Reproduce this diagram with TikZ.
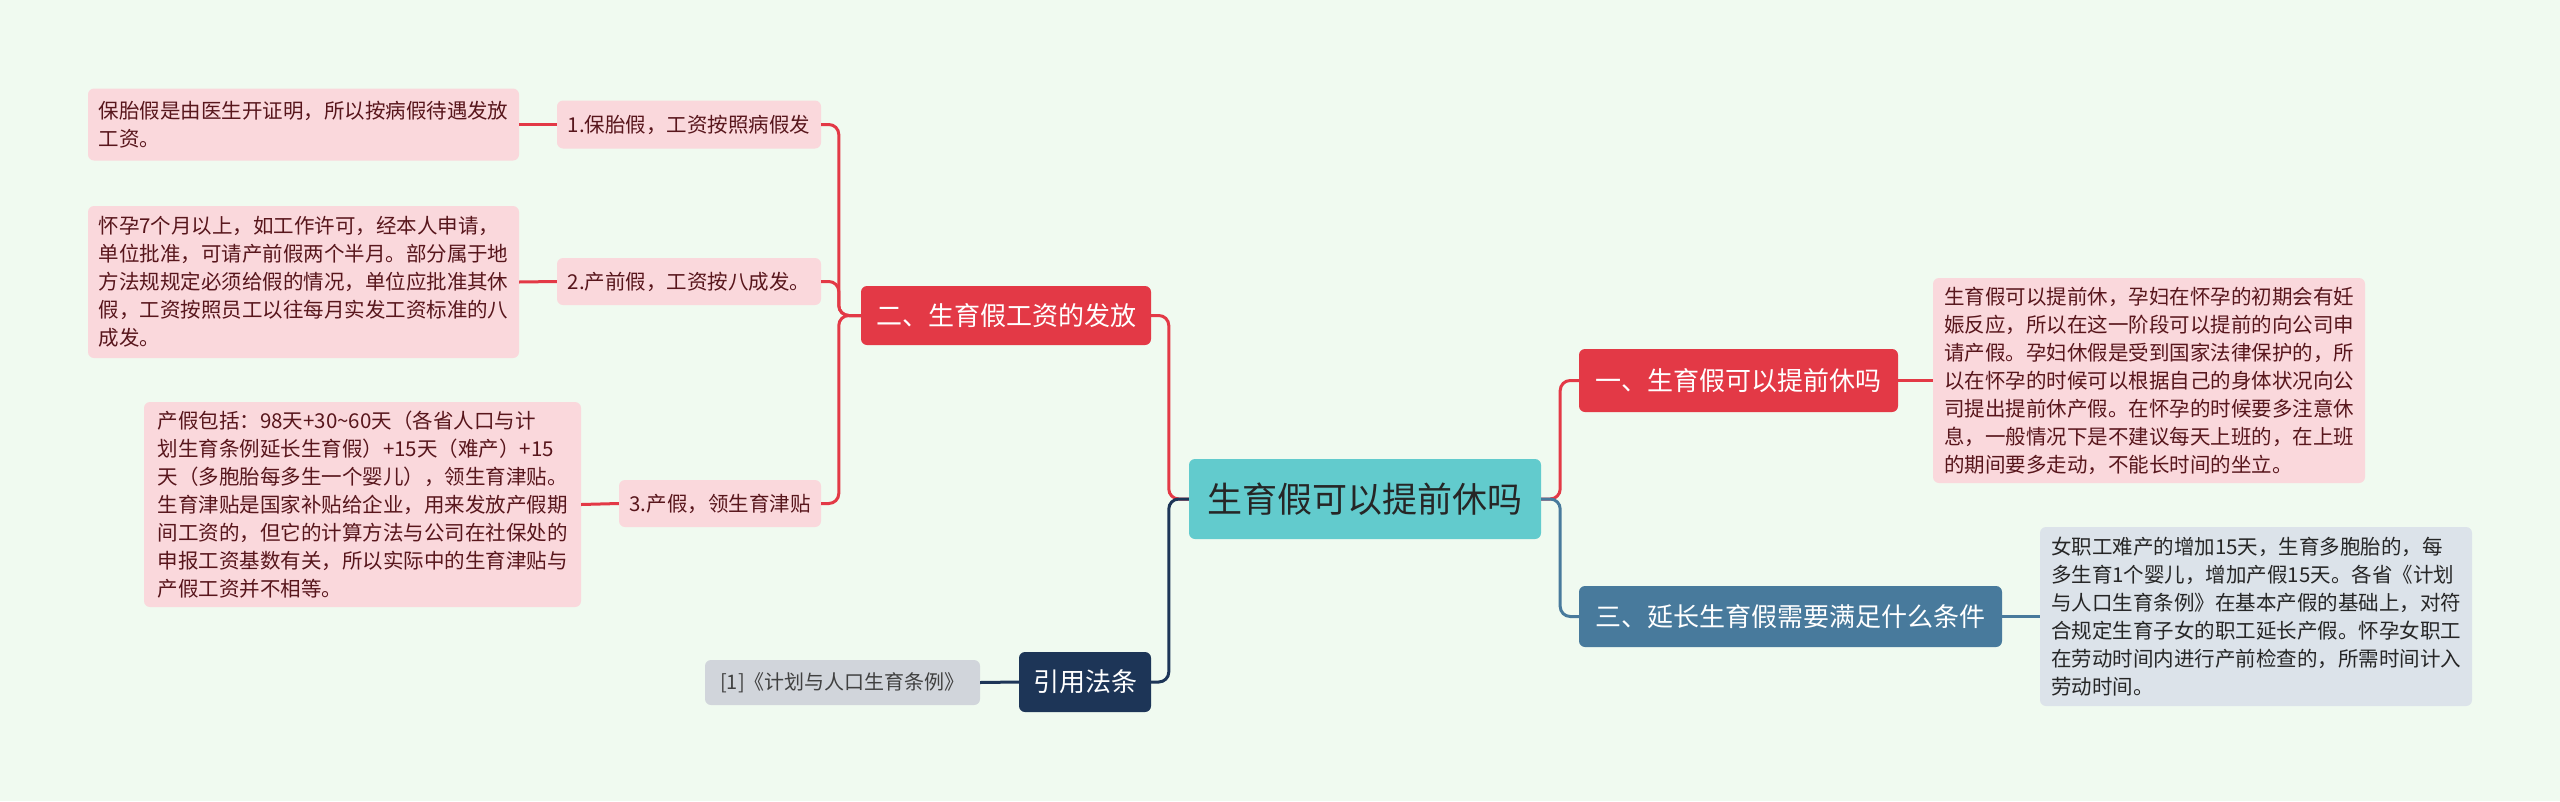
\documentclass[tikz,border=0pt]{standalone}
\usepackage{fontspec}
\setmainfont{Noto Sans CJK SC}

\begin{document}
\begin{tikzpicture}[x=1pt,y=-1pt,
	box/.style={rounded corners=6pt,inner sep=0pt,align=left},
	detail/.style={box,fill=colorP,text=colorT,font=\fontsize{20.5}{28}\selectfont},
	sub/.style={detail,align=center},
	branch/.style={box,align=center,text=white,font=\fontsize{26}{30}\selectfont},
	link/.style={line width=3pt,rounded corners=10pt}]
	\definecolor{colorBg}{RGB}{240,250,240}
	\definecolor{colorP}{RGB}{250,216,220}
	\definecolor{colorT}{RGB}{88,22,28}
	\definecolor{colorR}{RGB}{227,57,70}
	\definecolor{colorC}{RGB}{98,203,205}
	\definecolor{colorB}{RGB}{72,122,156}
	\definecolor{colorG}{RGB}{220,227,234}
	\definecolor{colorN}{RGB}{29,53,87}
	\definecolor{colorQ}{RGB}{209,213,219}
	\fill[colorBg] (0,0) rectangle (2560,801);
	\useasboundingbox (0,0) rectangle (2560,801);
	%% Nodes ------
	\node[box,fill=colorC,text=black!85,align=center,minimum width=352,minimum height=80,font=\fontsize{35}{40}\selectfont] (root) at (1365,499) {生育假可以提前休吗};
	\node[branch,fill=colorR,minimum width=290,minimum height=59] (b2) at (1006,315.5) {二、生育假工资的发放};
	\node[branch,fill=colorN,minimum width=132,minimum height=60] (bref) at (1085,682) {引用法条};
	\node[branch,fill=colorR,minimum width=319,minimum height=63] (b1) at (1738.5,380.5) {一、生育假可以提前休吗};
	\node[branch,fill=colorB,minimum width=423,minimum height=61] (b3) at (1790.5,616.5) {三、延长生育假需要满足什么条件};
	\node[sub,minimum width=264,minimum height=48] (s1) at (689,124.5) {1.保胎假，工资按照病假发};
	\node[sub,minimum width=264,minimum height=47] (s2) at (689,281.5) {2.产前假，工资按八成发。};
	\node[sub,minimum width=202,minimum height=47] (s3) at (720,503.5) {3.产假，领生育津贴};
	\node[detail,minimum width=431,minimum height=72] (d1) at (303.5,124.5) {保胎假是由医生开证明，所以按病假待遇发放\\工资。};
	\node[detail,minimum width=431,minimum height=152] (d2) at (303.5,282) {怀孕7个月以上，如工作许可，经本人申请，\\单位批准，可请产前假两个半月。部分属于地\\方法规规定必须给假的情况，单位应批准其休\\假，工资按照员工以往每月实发工资标准的八\\成发。};
	\node[detail,minimum width=437,minimum height=205] (d3) at (362.5,504.5) {产假包括：98天+30\textasciitilde60天（各省人口与计\\划生育条例延长生育假）+15天（难产）+15\\天（多胞胎每多生一个婴儿），领生育津贴。\\生育津贴是国家补贴给企业，用来发放产假期\\间工资的，但它的计算方法与公司在社保处的\\申报工资基数有关，所以实际中的生育津贴与\\产假工资并不相等。};
	\node[box,fill=colorQ,text=black!75,minimum width=275,minimum height=45,font=\fontsize{20}{24}\selectfont] (ref) at (842.5,682.5) {[1]《计划与人口生育条例》};
	\node[detail,minimum width=432,minimum height=205] (e1) at (2149,380.5) {生育假可以提前休，孕妇在怀孕的初期会有妊\\娠反应，所以在这一阶段可以提前的向公司申\\请产假。孕妇休假是受到国家法律保护的，所\\以在怀孕的时候可以根据自己的身体状况向公\\司提出提前休产假。在怀孕的时候要多注意休\\息，一般情况下是不建议每天上班的，在上班\\的期间要多走动，不能长时间的坐立。};
	\node[detail,fill=colorG,text=black!85,minimum width=432,minimum height=179] (e3) at (2256,616.5) {女职工难产的增加15天，生育多胞胎的，每\\多生育1个婴儿，增加产假15天。各省《计划\\与人口生育条例》在基本产假的基础上，对符\\合规定生育子女的职工延长产假。怀孕女职工\\在劳动时间内进行产前检查的，所需时间计入\\劳动时间。};
	%% Edges ---------
	\draw[link,colorR] (root.west) -- ++(-20,0) |- (b2.east);
	\draw[link,colorN] (root.west) -- ++(-20,0) |- (bref.east);
	\draw[link,colorR] (b2.west) -- ++(-22,0) |- (s1.east);
	\draw[link,colorR] (b2.west) -- ++(-22,0) |- (s2.east);
	\draw[link,colorR] (b2.west) -- ++(-22,0) |- (s3.east);
	\draw[link,colorR] (s1.west) -- (d1.east);
	\draw[link,colorR] (s2.west) -- (d2.east);
	\draw[link,colorR] (s3.west) -- (d3.east);
	\draw[link,colorN] (bref.west) -- (ref.east);
	\draw[link,colorR] (root.east) -- ++(19,0) |- (b1.west);
	\draw[link,colorB] (root.east) -- ++(19,0) |- (b3.west);
	\draw[link,colorR] (b1.east) -- (e1.west);
	\draw[link,colorB] (b3.east) -- (e3.west);
\end{tikzpicture}
\end{document}
